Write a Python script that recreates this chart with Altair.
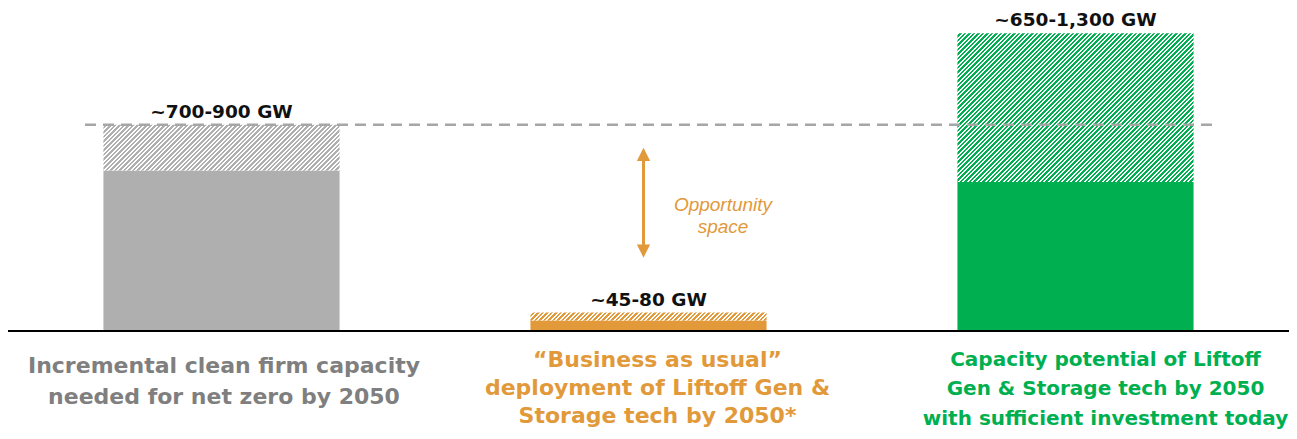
import altair as alt
import pandas as pd

# ---------------- data ----------------
categories = ["Needed for net zero", "Business as usual", "Potential"]
low_values = [700, 45, 650]
high_values = [900, 80, 1300]
value_labels = ["~700-900 GW", "~45-80 GW", "~650-1,300 GW"]
category_lines = [
    ["Incremental clean firm capacity", "needed for net zero by 2050"],
    ["\u201cBusiness as usual\u201d", "deployment of Liftoff Gen &", "Storage tech by 2050*"],
    ["Capacity potential of Liftoff", "Gen & Storage tech by 2050", "with sufficient investment today"],
]
reference_value = 900
arrow_top = 800
arrow_bottom = 320
opportunity_text = ["Opportunity", "space"]

# ---------------- styles ----------------
bar_colors = ["#AFAFAF", "#E2993A", "#00B050"]
text_colors = ["#7F7F7F", "#E2993A", "#00B050"]
label_sizes = [22, 22, 20]
label_line_heights = [31, 28, 29.5]
label_dy = [42, 36, 35]
label_dx = [2.5, 9, 30]

W, H = 1281, 423
Y_MIN, Y_MAX = -437, 1410
PAD_INNER, PAD_OUTER = 0.447, 0.2235
FONT = "DejaVu Sans"

step = W / (3 - PAD_INNER + 2 * PAD_OUTER)
bandwidth = step * (1 - PAD_INNER)
k = H / (Y_MAX - Y_MIN)


def hatch(color, w, h, period_px=4.5, frac=0.5):
    a = (w + h) / (w * w + h * h)
    per = period_px / (w + h)
    stops = []
    t = 0.0
    while t < 1.0:
        m = min(t + per * (1 - frac), 1.0)
        e = min(t + per, 1.0)
        stops += [
            {"offset": round(t, 5), "color": "#FFFFFF"},
            {"offset": round(m, 5), "color": "#FFFFFF"},
            {"offset": round(m, 5), "color": color},
            {"offset": round(e, 5), "color": color},
        ]
        t += per
    return {"gradient": "linear", "x1": 0, "y1": 0, "x2": a * w, "y2": a * h, "stops": stops}


df = pd.DataFrame({"cat": categories, "low": low_values, "high": high_values, "label": value_labels})

x_scale = alt.Scale(domain=categories, paddingInner=PAD_INNER, paddingOuter=PAD_OUTER)
y_scale = alt.Scale(domain=[Y_MIN, Y_MAX], nice=False, zero=False)
x_enc = alt.X("cat:N", scale=x_scale, axis=None)

base = alt.Chart(df)

solid = base.transform_calculate(zero="0").mark_bar().encode(
    x=x_enc,
    y=alt.Y("zero:Q", scale=y_scale, axis=None),
    y2="low:Q",
    color=alt.Color("cat:N", scale=alt.Scale(domain=categories, range=bar_colors), legend=None),
)

layers = [solid]
for i, c in enumerate(categories):
    h_px = (high_values[i] - low_values[i]) * k
    layers.append(
        base.transform_filter(alt.datum.cat == c)
        .mark_bar(fill=hatch(bar_colors[i], bandwidth, h_px))
        .encode(x=x_enc, y=alt.Y("low:Q", scale=y_scale, axis=None), y2="high:Q")
    )

# dashed reference line
ref_df = pd.DataFrame({"ref": [reference_value]})
layers.append(
    alt.Chart(ref_df)
    .mark_rule(color="#A6A6A6", strokeWidth=2.5, strokeDash=[11, 7])
    .encode(y=alt.Y("ref:Q", scale=y_scale, axis=None), x=alt.value(77), x2=alt.value(1211))
)

# baseline
base_df = pd.DataFrame({"b": [0]})
layers.append(
    alt.Chart(base_df).mark_rule(color="#000000", strokeWidth=2).encode(y=alt.Y("b:Q", scale=y_scale, axis=None))
)

# value labels
layers.append(
    base.mark_text(font=FONT, fontWeight="bold", fontSize=18.5, baseline="alphabetic", dy=-7, color="#111111").encode(
        x=x_enc, y=alt.Y("high:Q", scale=y_scale, axis=None), text="label:N"
    )
)

# category labels
for i, c in enumerate(categories):
    layers.append(
        base.transform_filter(alt.datum.cat == c)
        .transform_calculate(zero="0")
        .mark_text(
            text=category_lines[i],
            font=FONT,
            fontWeight="bold",
            fontSize=label_sizes[i],
            lineHeight=label_line_heights[i],
            baseline="alphabetic",
            align="center",
            dy=label_dy[i],
            dx=label_dx[i],
            color=text_colors[i],
        )
        .encode(x=x_enc, y=alt.Y("zero:Q", scale=y_scale, axis=None))
    )

# opportunity arrow
arrow_df = pd.DataFrame({"cat": [categories[1]], "top": [arrow_top], "bottom": [arrow_bottom]})
arrow_base = alt.Chart(arrow_df)
orange = bar_colors[1]
layers.append(
    arrow_base.transform_calculate(rt="datum.top - 20", rb="datum.bottom + 20")
    .mark_rule(color=orange, strokeWidth=3, xOffset=-5)
    .encode(x=x_enc, y=alt.Y("rt:Q", scale=y_scale, axis=None), y2="rb:Q")
)
layers.append(
    arrow_base.mark_point(shape="M0,0L1,2L-1,2Z", filled=True, size=175, color=orange, opacity=1, strokeWidth=0, xOffset=-5).encode(
        x=x_enc, y=alt.Y("top:Q", scale=y_scale, axis=None)
    )
)
layers.append(
    arrow_base.mark_point(shape="M0,0L1,-2L-1,-2Z", filled=True, size=175, color=orange, opacity=1, strokeWidth=0, xOffset=-5).encode(
        x=x_enc, y=alt.Y("bottom:Q", scale=y_scale, axis=None)
    )
)
layers.append(
    arrow_base.transform_calculate(mid="(datum.top + datum.bottom) / 2")
    .mark_text(
        text=opportunity_text,
        font="Liberation Sans",
        fontStyle="italic",
        fontSize=19,
        lineHeight=22,
        baseline="middle",
        align="center",
        dx=74.5,
        dy=2,
        color=orange,
    )
    .encode(x=x_enc, y=alt.Y("mid:Q", scale=y_scale, axis=None))
)

chart = (
    alt.layer(*layers)
    .properties(width=W, height=H, autosize=alt.AutoSizeParams(type="none"), padding=0)
    .configure_view(stroke=None)
)

chart.save("out.html", embed_options={"renderer": "svg", "actions": False})
